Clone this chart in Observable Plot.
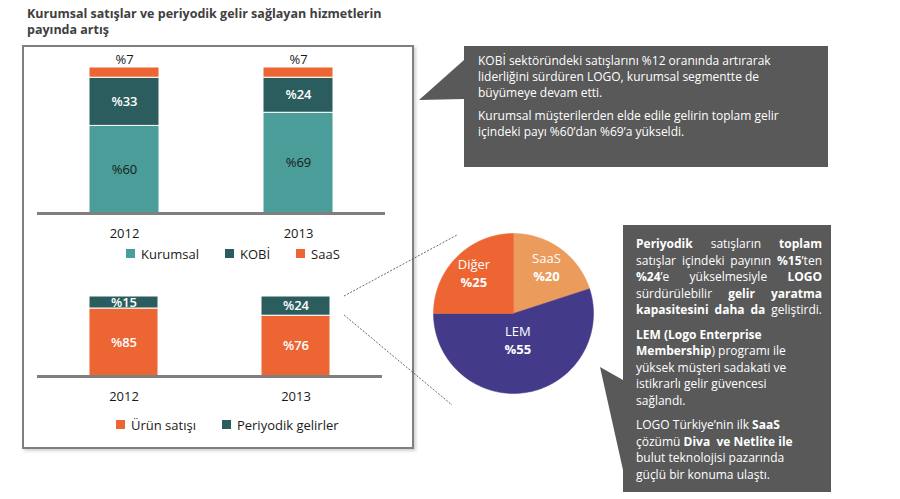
<!DOCTYPE html>
<html>
<head>
<meta charset="utf-8">
<script src="https://cdn.jsdelivr.net/npm/d3@7"></script>
<script src="https://cdn.jsdelivr.net/npm/@observablehq/plot@0.6"></script>
<style>
  html, body { margin: 0; padding: 0; background: #fff; }
  #root { position: relative; width: 900px; height: 499px; overflow: hidden; font-family: "Open Sans", sans-serif; color: #1a1a1a; }
  .abs { position: absolute; }
  #title { left: 27px; top: 6px; font-weight: 700; font-size: 12.5px; line-height: 16px; color: #404040; }
  #frame { left: 22px; top: 45px; width: 388px; height: 400px; border: 2px solid #7f7f7f; box-shadow: 2px 2px 3px rgba(0,0,0,0.18); }
  .lg-swatches { font-family: "Open Sans", sans-serif !important; font-size: 13px !important; color: #1a1a1a; }
  .lg-swatch { margin-right: 26px !important; }
  .lg-swatch > svg { margin-right: 6px !important; }
  .note { color: #fff; font-size: 12px; }
  .n1 { line-height: 16px; }
  .n1 .para { margin-bottom: 7px; }
  .n2 { line-height: 16.5px; }
  .n2 .para { margin-bottom: 8px; }
  .j { text-align: justify; text-align-last: justify; }
  b { font-weight: 700; }
</style>
</head>
<body>
<div id="root">
  <div id="title" class="abs">Kurumsal satışlar ve periyodik gelir sağlayan hizmetlerin<br>payında artış</div>
  <div id="frame" class="abs"></div>
  <svg id="deco" class="abs" width="900" height="499" style="left:0;top:0">
    <path d="M464,46 H828 V167 H464 V99 L419,100 L464,60 Z" fill="#595959"/>
    <path d="M623,225 H831 V492 H623 V470 L600,367 L623,380 Z" fill="#595959"/>
    <line x1="344" y1="296" x2="457" y2="235" stroke="#444" stroke-width="0.8" stroke-dasharray="2,1.5"/>
    <line x1="344" y1="315" x2="452" y2="405" stroke="#444" stroke-width="0.8" stroke-dasharray="2,1.5"/>
  </svg>
  <div id="top" class="abs" style="left:0;top:40px"></div>
  <div id="topLegend" class="abs" style="left:126px;top:237px"></div>
  <div id="bottom" class="abs" style="left:0;top:270px"></div>
  <div id="bottomLegend" class="abs" style="left:116px;top:408px"></div>
  <div id="pie" class="abs" style="left:423px;top:223px"></div>
  <div class="abs note n1" style="left:478px;top:53px;width:350px">
    <div class="para">KOBİ sektöründeki satışlarını %12 oranında artırarak<br>liderliğini sürdüren LOGO, kurumsal segmentte de<br>büyümeye devam etti.</div>
    <div class="para">Kurumsal müşterilerden elde edile gelirin toplam gelir<br>içindeki payı %60’dan %69’a yükseldi.</div>
  </div>
  <div class="abs note n2" style="left:636px;top:236px;width:186px">
    <div class="para">
      <div class="j"><b>Periyodik</b> satışların <b>toplam</b></div>
      <div class="j">satışlar içindeki payının <b>%15</b>’ten</div>
      <div class="j"><b>%24</b>’e yükselmesiyle <b>LOGO</b></div>
      <div class="j">sürdürülebilir <b>gelir yaratma</b></div>
      <div class="j"><b>kapasitesini daha da</b> geliştirdi.</div>
    </div>
    <div class="para"><b>LEM (Logo Enterprise<br>Membership</b>) programı ile<br>yüksek müşteri sadakati ve<br>istikrarlı gelir güvencesi<br>sağlandı.</div>
    <div class="para">LOGO Türkiye’nin ilk <b>SaaS</b><br>çözümü <b>Diva&nbsp; ve Netlite ile</b><br>bulut teknolojisi pazarında<br>güçlü bir konuma ulaştı.</div>
  </div>
</div>
<script>
// ---- data ----
const years = ["2012", "2013"];
const topSegments = ["Kurumsal", "KOBİ", "SaaS"];
const kurumsal = [60, 69];
const kobi = [33, 24];
const saas = [7, 7];

const bottomSegments = ["Ürün satışı", "Periyodik gelirler"];
const urunSatisi = [85, 76];
const periyodikGelirler = [15, 24];

const pieCategories = ["SaaS", "LEM", "Diğer"];
const pieValues = [20, 55, 25];

// ---- styles ----
const topColors = ["#4a9d98", "#2b5d5e", "#ec6532"];
const bottomColors = ["#ec6532", "#2b5d5e"];
const pieColors = ["#eb9b5c", "#433b8a", "#ec6532"];
const font = "Open Sans, sans-serif";

// ---- tables ----
const topSeries = [kurumsal, kobi, saas];
const topData = [];
years.forEach((yr, i) => topSegments.forEach((s, j) => topData.push({year: yr, segment: s, value: topSeries[j][i]})));
const bottomSeries = [urunSatisi, periyodikGelirler];
const bottomData = [];
years.forEach((yr, i) => bottomSegments.forEach((s, j) => bottomData.push({year: yr, segment: s, value: bottomSeries[j][i]})));

const pct = d => "%" + d.value;
const pctIf = seg => d => d.segment === seg ? "%" + d.value : null;

// ---- top chart ----
const topPlot = Plot.plot({
  width: 420, height: 205,
  marginLeft: 37, marginRight: 35, marginTop: 27, marginBottom: 32,
  style: {fontFamily: font, fontSize: "13px", color: "#1a1a1a", background: "transparent", overflow: "visible"},
  x: {domain: years, paddingInner: 0.6, paddingOuter: 0.3, tickSize: 0, tickPadding: 15, label: null},
  y: {domain: [0, 100], axis: null},
  color: {domain: topSegments, range: topColors},
  marks: [
    Plot.barY(topData, {x: "year", y: "value", fill: "segment", stroke: "white", strokeWidth: 1}),
    Plot.ruleY([0], {stroke: "#7f7f7f", strokeWidth: 3}),
    Plot.text(topData, Plot.stackY({x: "year", y: "value", z: "segment", text: pctIf("Kurumsal"), fill: "#1a1a1a"})),
    Plot.text(topData, Plot.stackY({x: "year", y: "value", z: "segment", text: pctIf("KOBİ"), fill: "white", fontWeight: 600})),
    Plot.text(topData, Plot.stackY2({x: "year", y: "value", z: "segment", text: pctIf("SaaS"), fill: "#1a1a1a", dy: -8}))
  ]
});
document.getElementById("top").appendChild(topPlot);
document.getElementById("topLegend").appendChild(topPlot.legend("color", {className: "lg", swatchSize: 9}));

// ---- bottom chart ----
const bottomPlot = Plot.plot({
  width: 420, height: 140,
  marginLeft: 37, marginRight: 38, marginTop: 26, marginBottom: 34,
  style: {fontFamily: font, fontSize: "13px", color: "#1a1a1a", background: "transparent", overflow: "visible"},
  x: {domain: years, paddingInner: 0.6, paddingOuter: 0.3, tickSize: 0, tickPadding: 15, label: null},
  y: {domain: [0, 100], axis: null},
  color: {domain: bottomSegments, range: bottomColors},
  marks: [
    Plot.barY(bottomData, {x: "year", y: "value", fill: "segment", stroke: "white", strokeWidth: 1}),
    Plot.ruleY([0], {stroke: "#7f7f7f", strokeWidth: 3}),
    Plot.text(bottomData, Plot.stackY({x: "year", y: "value", z: "segment", text: pct, fill: "white", fontWeight: 600}))
  ]
});
document.getElementById("bottom").appendChild(bottomPlot);
document.getElementById("bottomLegend").appendChild(bottomPlot.legend("color", {className: "lg", swatchSize: 9}));

// ---- pie chart ----
const arcs = d3.pie().sort(null).startAngle(0).endAngle(2 * Math.PI)(pieValues);
const slicePts = [];
arcs.forEach((a, i) => {
  const cat = pieCategories[i];
  slicePts.push({cat, x: 0, y: 0});
  const n = 120;
  for (let k = 0; k <= n; k++) {
    const t = a.startAngle + (a.endAngle - a.startAngle) * k / n;
    slicePts.push({cat, x: Math.sin(t), y: Math.cos(t)});
  }
  slicePts.push({cat, x: 0, y: 0});
});
const maxVal = d3.max(pieValues);
const pieLabels = arcs.map((a, i) => {
  const m = (a.startAngle + a.endAngle) / 2;
  const r = pieValues[i] === maxVal ? 0.35 : 0.7;
  return {cat: pieCategories[i], value: pieValues[i], x: r * Math.sin(m), y: r * Math.cos(m)};
});
const piePlot = Plot.plot({
  width: 180, height: 180, margin: 10,
  style: {fontFamily: font, fontSize: "13px", background: "transparent", overflow: "visible"},
  x: {domain: [-1, 1], axis: null},
  y: {domain: [-1, 1], axis: null},
  color: {domain: pieCategories, range: pieColors},
  marks: [
    Plot.line(slicePts, {x: "x", y: "y", z: "cat", fill: "cat", stroke: "cat", strokeWidth: 0.5, curve: "linear"}),
    Plot.text(pieLabels, {x: "x", y: "y", text: "cat", fill: "white", dy: -9}),
    Plot.text(pieLabels, {x: "x", y: "y", text: d => "%" + d.value, fill: "white", fontWeight: 700, dy: 9})
  ]
});
document.getElementById("pie").appendChild(piePlot);
</script>
</body>
</html>
